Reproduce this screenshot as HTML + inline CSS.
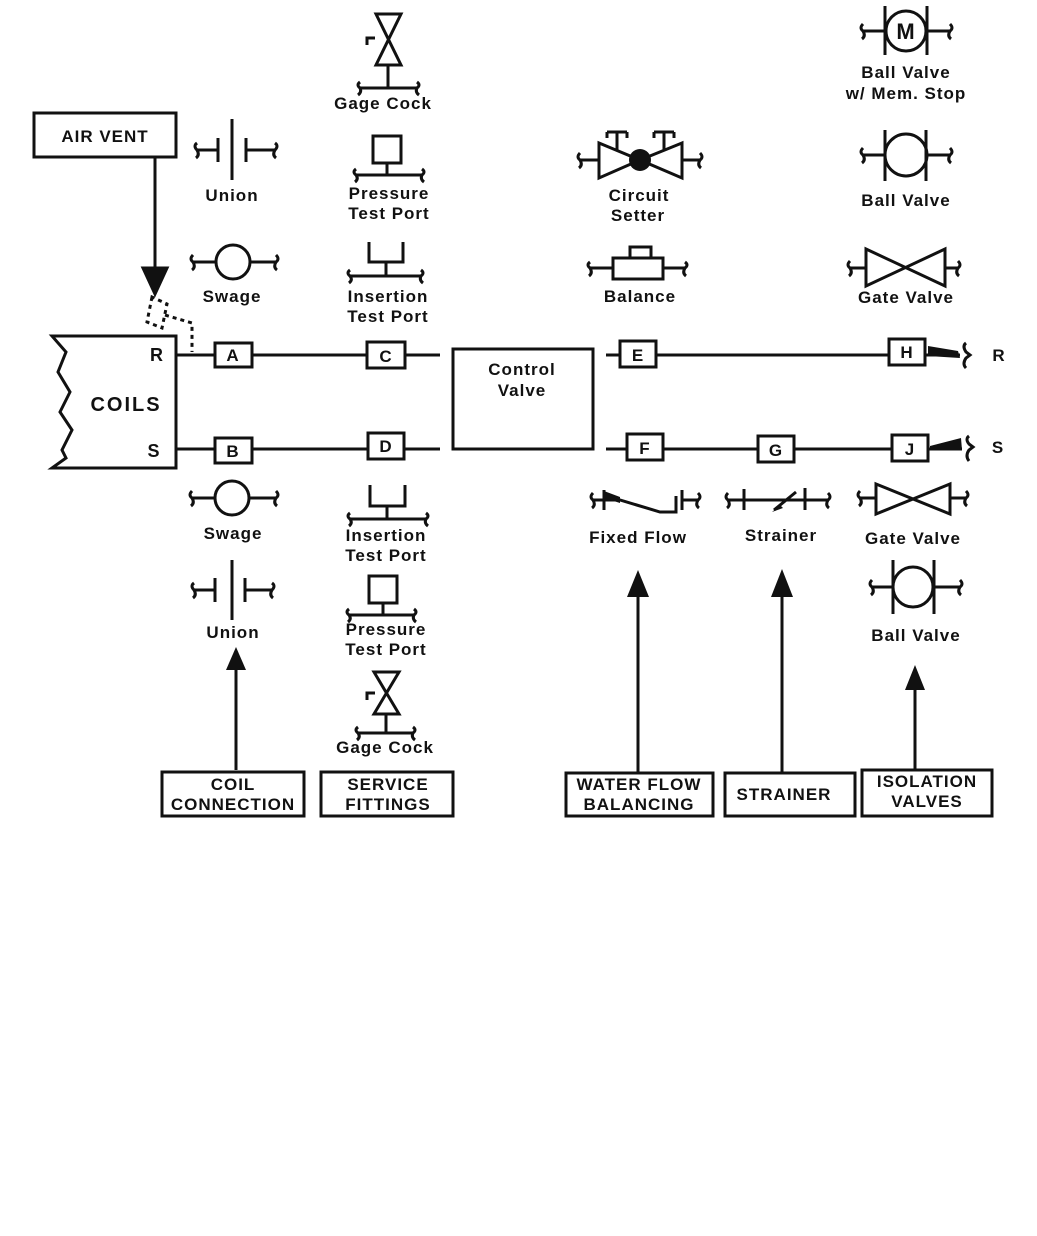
<!DOCTYPE html>
<html><head><meta charset="utf-8"><style>
html,body{margin:0;padding:0;background:#fff;}
svg{display:block;}
text{font-family:"Liberation Sans",Arial,sans-serif;font-weight:bold;font-size:17px;fill:#111;text-anchor:middle;letter-spacing:1px;}
</style></head><body>
<svg width="1037" height="1236" viewBox="0 0 1037 1236" xmlns="http://www.w3.org/2000/svg">
<g stroke="#111" stroke-width="3" fill="none">
<rect x="34" y="113" width="142" height="44"/>
<line x1="155" y1="157" x2="155" y2="270"/>
<polygon points="143,268 167,268 155,294" fill="#111"/>
<path d="M152,297 L147,322 L162,328 L167,304 Z M165,315 L192,323 L192,352" stroke-dasharray="4,4"/>
<path d="M176,336 L52,336 L66,352 L58,372 L70,392 L60,412 L72,430 L62,450 L66,458 L52,468 L176,468 Z"/>
<line x1="176" y1="355" x2="440" y2="355"/>
<rect x="215" y="343" width="37" height="24" fill="#fff"/>
<rect x="367" y="342" width="38" height="26" fill="#fff"/>
<line x1="176" y1="449" x2="440" y2="449"/>
<rect x="215" y="438" width="37" height="25" fill="#fff"/>
<rect x="368" y="433" width="36" height="26" fill="#fff"/>
<rect x="453" y="349" width="140" height="100"/>
<line x1="606" y1="355" x2="960" y2="355"/>
<rect x="620" y="341" width="36" height="26" fill="#fff"/>
<rect x="889" y="339" width="36" height="26" fill="#fff"/>
<path d="M966,343 Q962,346 966,352 L970,355 L966,358 Q962,364 966,368"/>
<line x1="606" y1="449" x2="962" y2="449"/>
<rect x="627" y="434" width="36" height="26" fill="#fff"/>
<rect x="758" y="436" width="36" height="26" fill="#fff"/>
<rect x="892" y="435" width="36" height="26" fill="#fff"/>
<path d="M969,436 Q965,439 969,444 L973,447 L969,450 Q965,456 969,461"/>
</g>
<polygon points="928,346 958,351 960,358 928,356" fill="#111"/>
<polygon points="930,446 961,438 962,450 930,450" fill="#111"/>

<g stroke="#111" stroke-width="3" fill="none">
<path d="M376,14 L401,14 L376,65 L401,65 Z"/>
<path d="M367,45 L367,38 L375,38"/>
<line x1="388" y1="65" x2="388" y2="88"/>
<line x1="360" y1="88" x2="417" y2="88"/>
<path d="M360,82 Q356,85 360,88 Q362,92 358,95"/><path d="M417,82 Q421,85 417,88 Q415,92 419,95"/>
<line x1="232" y1="119" x2="232" y2="180"/>
<path d="M197,150 L218,150 M218,138 L218,162 M246,138 L246,162 M246,150 L275,150"/>
<path d="M197,143 Q193,146 197,150 Q200,155 196,158"/><path d="M275,143 Q279,146 275,150 Q272,155 276,158"/>
<rect x="373" y="136" width="28" height="27"/>
<line x1="387" y1="163" x2="387" y2="175"/>
<line x1="356" y1="175" x2="422" y2="175"/>
<path d="M356,169 Q352,172 356,175 Q359,179 355,182"/><path d="M422,169 Q426,172 422,175 Q420,179 424,182"/>
<circle cx="233" cy="262" r="17"/>
<path d="M193,262 L216,262 M250,262 L276,262"/>
<path d="M193,255 Q189,259 193,262 Q196,267 192,270"/><path d="M276,255 Q280,259 276,262 Q273,267 277,270"/>
<path d="M369,242 L369,262 L403,262 L403,242 M386,262 L386,276"/>
<line x1="350" y1="276" x2="421" y2="276"/>
<path d="M350,270 Q346,273 350,276 Q353,280 349,283"/><path d="M421,270 Q425,273 421,276 Q419,280 423,283"/>
<path d="M599,143 L640,160 L599,178 Z M682,143 L640,160 L682,178 Z"/>
<path d="M580,160 L599,160 M682,160 L700,160"/>
<path d="M580,153 Q576,157 580,160 Q583,165 579,168"/><path d="M700,153 Q704,157 700,160 Q697,165 701,168"/>
<path d="M617,150 L617,132 M607,132 L627,132 M607,132 L607,138 M627,132 L627,138"/>
<path d="M664,150 L664,132 M654,132 L674,132 M654,132 L654,138 M674,132 L674,138"/>
<rect x="613" y="258" width="50" height="21"/>
<rect x="630" y="247" width="21" height="11"/>
<path d="M590,268 L613,268 M663,268 L685,268"/>
<path d="M590,262 Q586,265 590,268 Q593,273 589,276"/><path d="M685,262 Q689,265 685,268 Q682,273 686,276"/>
<circle cx="906" cy="31" r="20"/>
<path d="M885,6 L885,55 M927,6 L927,55 M863,31 L885,31 M927,31 L950,31"/>
<path d="M863,24 Q859,28 863,31 Q866,36 862,39"/><path d="M950,24 Q954,28 950,31 Q947,36 951,39"/>
<circle cx="906" cy="155" r="21"/>
<path d="M885,130 L885,181 M926,130 L926,181 M863,155 L885,155 M926,155 L950,155"/>
<path d="M863,148 Q859,152 863,155 Q866,160 862,163"/><path d="M950,148 Q954,152 950,155 Q947,160 951,163"/>
<path d="M866,249 L945,286 L945,249 L866,286 Z"/>
<path d="M850,268 L866,268 M945,268 L958,268"/>
<path d="M850,261 Q846,265 850,268 Q853,273 849,276"/><path d="M958,261 Q962,265 958,268 Q955,273 959,276"/>

<circle cx="232" cy="498" r="17"/>
<path d="M192,498 L215,498 M249,498 L276,498"/>
<path d="M192,491 Q188,495 192,498 Q195,503 191,506"/><path d="M276,491 Q280,495 276,498 Q273,503 277,506"/>
<line x1="232" y1="560" x2="232" y2="620"/>
<path d="M194,590 L215,590 M215,578 L215,602 M245,578 L245,602 M245,590 L272,590"/>
<path d="M194,583 Q190,586 194,590 Q197,595 193,598"/><path d="M272,583 Q276,586 272,590 Q269,595 273,598"/>
<line x1="236" y1="770" x2="236" y2="670"/>
<path d="M370,485 L370,506 L405,506 L405,485 M387,506 L387,519"/>
<line x1="350" y1="519" x2="426" y2="519"/>
<path d="M350,513 Q346,516 350,519 Q353,523 349,526"/><path d="M426,513 Q430,516 426,519 Q424,523 428,526"/>
<rect x="369" y="576" width="28" height="27"/>
<line x1="383" y1="603" x2="383" y2="615"/>
<line x1="349" y1="615" x2="414" y2="615"/>
<path d="M349,609 Q345,612 349,615 Q352,619 348,622"/><path d="M414,609 Q418,612 414,615 Q412,619 416,622"/>
<path d="M374,672 L399,672 L374,714 L399,714 Z"/>
<path d="M367,700 L367,693 L375,693"/>
<line x1="386" y1="714" x2="386" y2="733"/>
<line x1="358" y1="733" x2="413" y2="733"/>
<path d="M358,727 Q354,730 358,733 Q361,737 357,740"/><path d="M413,727 Q417,730 413,733 Q411,737 415,740"/>
<rect x="162" y="772" width="142" height="44"/>
<rect x="321" y="772" width="132" height="44"/>
<rect x="566" y="773" width="147" height="43"/>
<rect x="725" y="773" width="130" height="43"/>
<rect x="862" y="770" width="130" height="46"/>
<line x1="638" y1="772" x2="638" y2="595"/>
<line x1="782" y1="772" x2="782" y2="595"/>
<line x1="915" y1="770" x2="915" y2="688"/>
<path d="M593,500 L604,500 M604,490 L604,510 M682,490 L682,510 M682,500 L698,500"/>
<path d="M604,500 L620,500 L660,512 L676,512 L676,496"/>
<path d="M593,493 Q589,497 593,500 Q596,505 592,508"/><path d="M698,493 Q702,497 698,500 Q695,505 699,508"/>
<path d="M728,500 L828,500 M744,489 L744,510 M805,488 L805,510"/>
<path d="M796,492 L774,510"/>
<path d="M728,493 Q724,497 728,500 Q731,505 727,508"/><path d="M828,493 Q832,497 828,500 Q825,505 829,508"/>
<path d="M876,484 L950,514 L950,484 L876,514 Z"/>
<path d="M860,498 L876,498 M950,498 L966,498"/>
<path d="M860,491 Q856,495 860,498 Q863,503 859,506"/><path d="M966,491 Q970,495 966,498 Q963,503 967,506"/>
<circle cx="913" cy="587" r="20"/>
<path d="M893,560 L893,614 M934,560 L934,614 M872,587 L893,587 M934,587 L960,587"/>
<path d="M872,580 Q868,584 872,587 Q875,592 871,595"/><path d="M960,580 Q964,584 960,587 Q957,592 961,595"/>
</g>
<circle cx="640" cy="160" r="11" fill="#111"/>
<polygon points="772,512 780,505 783,508" fill="#111"/>
<polygon points="604,491 620,497 620,503 604,498" fill="#111"/>
<polygon points="226,670 246,670 236,647" fill="#111"/>
<polygon points="627,597 649,597 638,570" fill="#111"/>
<polygon points="771,597 793,597 782,569" fill="#111"/>
<polygon points="905,690 925,690 915,665" fill="#111"/>

<text x="105" y="142">AIR VENT</text>
<text x="157" y="361" style="font-size:18px">R</text>
<text x="154" y="457" style="font-size:18px">S</text>
<text x="126" y="411" style="font-size:20px;letter-spacing:2px">COILS</text>
<text x="233" y="361">A</text>
<text x="386" y="362">C</text>
<text x="233" y="457">B</text>
<text x="386" y="452">D</text>
<text x="522" y="375">Control</text>
<text x="522" y="396">Valve</text>
<text x="638" y="361">E</text>
<text x="907" y="358">H</text>
<text x="999" y="361">R</text>
<text x="645" y="454">F</text>
<text x="776" y="456">G</text>
<text x="910" y="455">J</text>
<text x="998" y="453">S</text>
<text x="906" y="39" style="font-size:22px">M</text>

<text x="383" y="109">Gage Cock</text>
<text x="232" y="201">Union</text>
<text x="389" y="199">Pressure</text>
<text x="389" y="219">Test Port</text>
<text x="232" y="302">Swage</text>
<text x="388" y="302">Insertion</text>
<text x="388" y="322">Test Port</text>
<text x="639" y="201">Circuit</text>
<text x="638" y="221">Setter</text>
<text x="640" y="302">Balance</text>
<text x="906" y="78">Ball Valve</text>
<text x="906" y="99">w/ Mem. Stop</text>
<text x="906" y="206">Ball Valve</text>
<text x="906" y="303">Gate Valve</text>

<text x="233" y="539">Swage</text>
<text x="233" y="638">Union</text>
<text x="386" y="541">Insertion</text>
<text x="386" y="561">Test Port</text>
<text x="386" y="635">Pressure</text>
<text x="386" y="655">Test Port</text>
<text x="385" y="753">Gage Cock</text>
<text x="638" y="543">Fixed Flow</text>
<text x="781" y="541">Strainer</text>
<text x="913" y="544">Gate Valve</text>
<text x="916" y="641">Ball Valve</text>

<text x="233" y="790">COIL</text>
<text x="233" y="810">CONNECTION</text>
<text x="388" y="790">SERVICE</text>
<text x="388" y="810">FITTINGS</text>
<text x="639" y="790">WATER FLOW</text>
<text x="639" y="810">BALANCING</text>
<text x="784" y="800">STRAINER</text>
<text x="927" y="787">ISOLATION</text>
<text x="927" y="807">VALVES</text>
</svg>
</body></html>
